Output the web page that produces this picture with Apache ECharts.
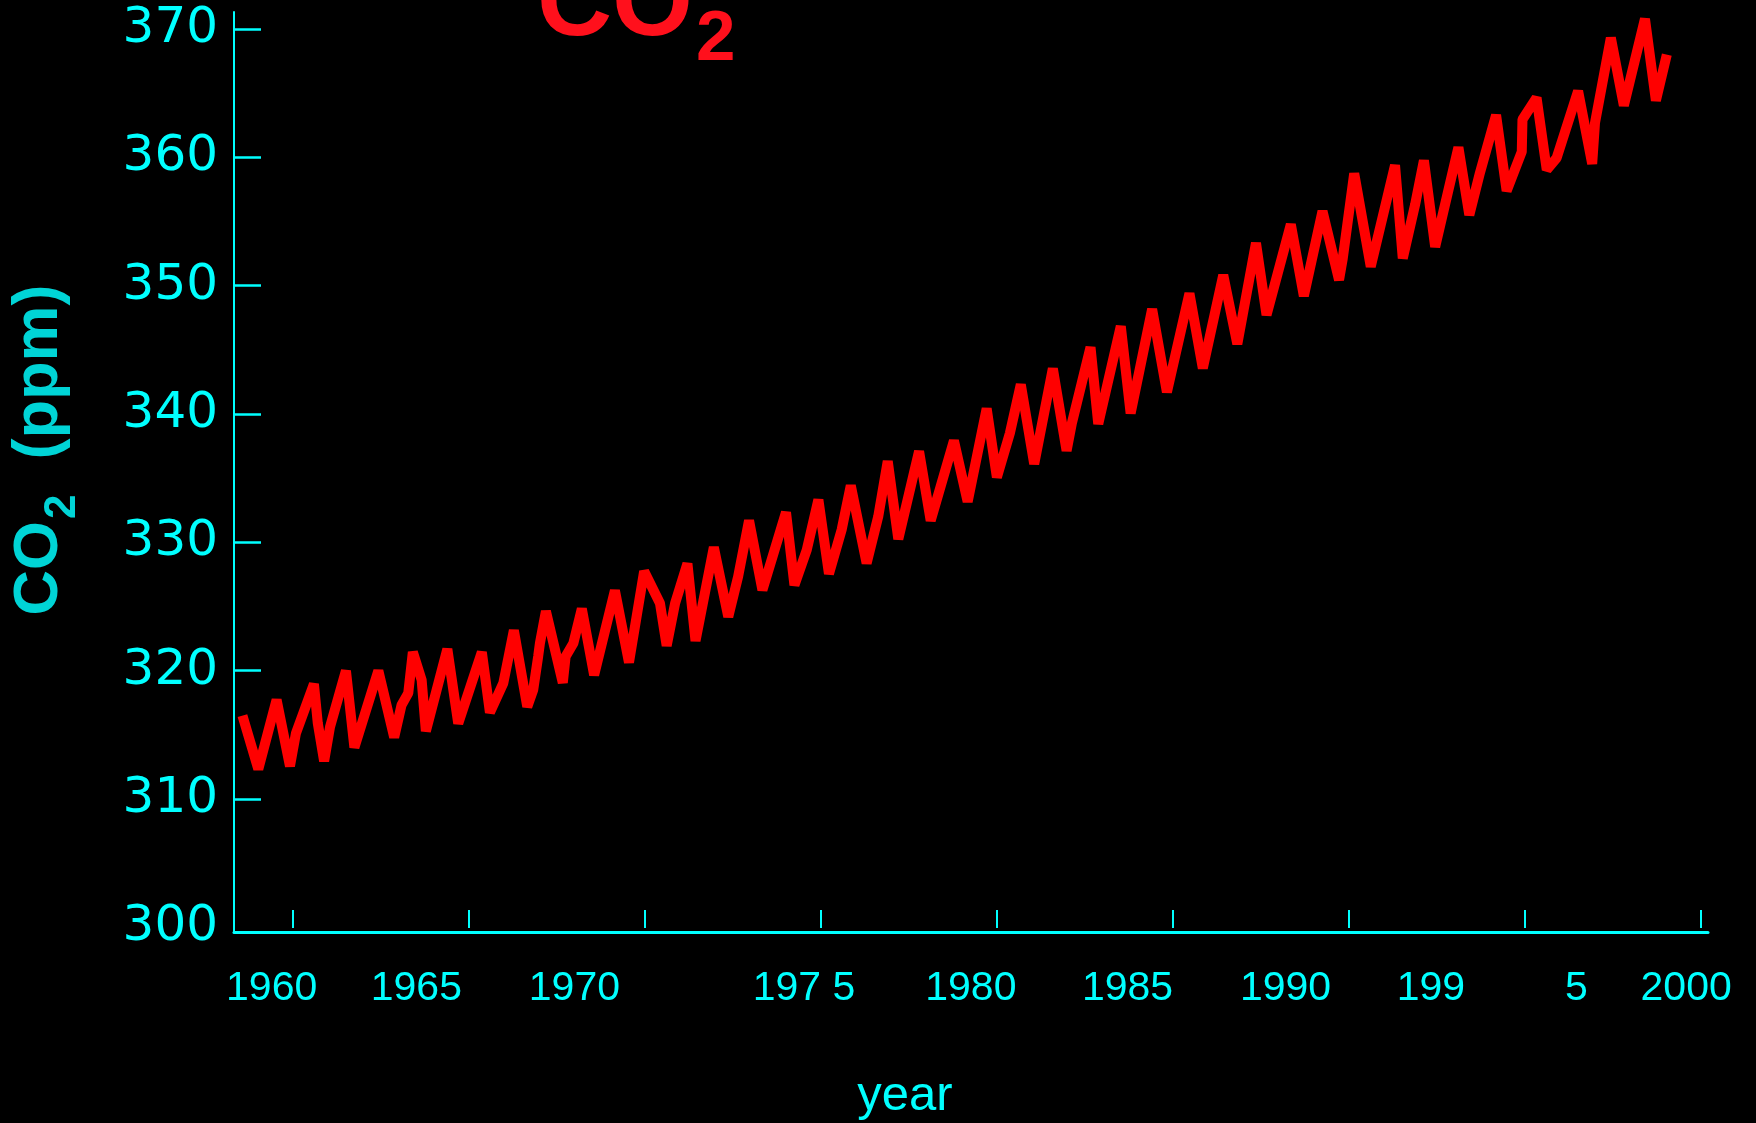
<!DOCTYPE html>
<html>
<head>
<meta charset="utf-8">
<script src="https://cdn.jsdelivr.net/npm/echarts@6/dist/echarts.min.js"></script>
<style>
  html, body { margin: 0; padding: 0; background: #000; }
  #chart { width: 1756px; height: 1123px; }
</style>
</head>
<body>
<div id="chart"></div>
<script>
// Mauna Loa style CO2 record: vertices of the seasonal curve (decimal year, ppm)
const years = [
  1958.57, 1959.02, 1959.54, 1959.92, 1960.09, 1960.60, 1960.71, 1960.89, 1961.06, 1961.51,
  1961.75, 1962.43, 1962.88, 1963.09, 1963.28, 1963.41, 1963.66, 1963.78, 1964.39, 1964.70,
  1965.37, 1965.60, 1965.98, 1966.28, 1966.66, 1966.83, 1966.97, 1967.02, 1967.19, 1967.67,
  1967.75, 1967.97, 1968.21, 1968.56, 1969.15, 1969.55, 1969.98, 1970.43, 1970.62, 1970.86,
  1971.21, 1971.44, 1971.96, 1972.37, 1972.65, 1972.96, 1973.34, 1974.01, 1974.25, 1974.60,
  1974.93, 1975.23, 1975.59, 1975.85, 1976.30, 1976.63, 1976.90, 1977.20, 1977.79, 1978.12,
  1978.78, 1979.17, 1979.71, 1980.00, 1980.37, 1980.68, 1981.06, 1981.59, 1981.98, 1982.13,
  1982.66, 1982.88, 1983.52, 1983.80, 1984.41, 1984.83, 1985.47, 1985.85, 1986.43, 1986.83,
  1987.36, 1987.66, 1988.35, 1988.72, 1989.25, 1989.72, 1989.82, 1990.15, 1990.62, 1991.31,
  1991.53, 1991.88, 1992.13, 1992.45, 1993.11, 1993.42, 1993.72, 1994.18, 1994.48, 1994.91,
  1994.93, 1995.33, 1995.62, 1995.90, 1996.51, 1996.91, 1996.99, 1997.44, 1997.81, 1998.41,
  1998.72, 1999.03
];
const co2 = [
  316.50, 312.33, 317.74, 312.56, 315.13, 318.96, 315.91, 312.95, 315.65, 320.00,
  314.02, 320.00, 314.80, 317.33, 318.25, 321.45, 319.28, 315.29, 321.69, 315.89,
  321.45, 316.74, 319.03, 323.15, 317.19, 318.51, 321.11, 322.14, 324.63, 319.06,
  321.11, 322.14, 324.84, 319.65, 326.26, 320.64, 327.75, 325.26, 321.94, 325.26,
  328.35, 322.32, 329.62, 324.20, 327.33, 331.70, 326.28, 332.34, 326.67, 329.42,
  333.33, 327.54, 330.97, 334.42, 328.37, 332.01, 336.32, 330.25, 337.10, 331.69,
  337.93, 333.17, 340.43, 335.06, 338.51, 342.30, 336.10, 343.54, 337.14, 339.28,
  345.20, 339.22, 346.84, 340.05, 348.17, 341.70, 349.39, 343.56, 350.82, 345.45,
  353.33, 347.71, 354.77, 349.19, 355.80, 350.44, 352.02, 358.74, 351.48, 359.39,
  352.13, 356.31, 359.76, 353.03, 360.78, 355.51, 358.77, 363.29, 357.38, 360.43,
  362.95, 364.64, 359.02, 359.94, 365.16, 359.49, 362.68, 369.31, 364.03, 370.79,
  364.42, 368.00
];

// axis ticks and labels
const yTicks = [300, 310, 320, 330, 340, 350, 360, 370];
const xTicks = [1960, 1965, 1970, 1975, 1980, 1985, 1990, 1995, 2000];
const xLabelText = ['1960', '1965', '1970', '197 5', '1980', '1985', '1990', '199', '5', '2000'];
const xLabelAt = [1959.40, 1963.51, 1968.00, 1974.52, 1979.26, 1983.71, 1988.20, 1992.33, 1996.46, 1999.58];

const CYAN = '#00ffff';
const NAME_CYAN = '#00d4d6';
const RED = '#ff0000';
const TITLE_RED = '#ff101c';
const X_MIN = 1958.33, X_MAX = 2000.2;
const Y_MIN = 299.64, Y_MAX = 371.32;

const chart = echarts.init(document.getElementById('chart'), null, { renderer: 'canvas' });

const nameFont = "'Liberation Sans Narrow', 'Liberation Sans', sans-serif";

chart.setOption({
  backgroundColor: '#000',
  animation: false,
  title: {
    text: '{m|CO}{s|2}',
    left: 537,
    top: -46,
    padding: 0,
    textStyle: {
      rich: {
        m: { fontSize: 104, fontWeight: 'bold', fontFamily: 'Liberation Sans', color: TITLE_RED, verticalAlign: 'top' },
        s: { fontSize: 71, fontWeight: 'bold', fontFamily: 'Liberation Sans', color: TITLE_RED, verticalAlign: 'top', padding: [51, 0, 0, 3] }
      }
    }
  },
  grid: { left: 234, right: 48, top: 12, bottom: 191, outerBoundsMode: 'none' },
  xAxis: [
    {
      type: 'value', min: X_MIN, max: X_MAX,
      axisLine: { onZero: false, lineStyle: { color: CYAN, width: 3 } },
      axisTick: { show: false },
      axisLabel: { show: false },
      splitLine: { show: false },
      name: 'year',
      nameLocation: 'middle',
      nameGap: 140,
      nameMoveOverlap: false,
      nameTextStyle: { color: CYAN, fontSize: 49, fontFamily: 'Liberation Sans', padding: [0, 132, 0, 0] }
    },
    {
      type: 'value', min: X_MIN, max: X_MAX, position: 'bottom', offset: -4,
      axisLine: { show: false, onZero: false },
      axisTick: { show: true, inside: true, length: 18, customValues: xTicks, lineStyle: { color: CYAN, width: 2 } },
      axisLabel: {
        customValues: xLabelAt,
        formatter: function (v) {
          for (let i = 0; i < xLabelAt.length; i++) {
            if (Math.abs(xLabelAt[i] - v) < 1e-6) return xLabelText[i];
          }
          return '';
        },
        color: CYAN, fontSize: 41, fontFamily: 'Liberation Sans',
        margin: 61, verticalAlign: 'middle'
      },
      splitLine: { show: false }
    }
  ],
  yAxis: {
    type: 'value', min: Y_MIN, max: Y_MAX,
    axisLine: { onZero: false, lineStyle: { color: CYAN, width: 2 } },
    axisTick: { show: true, inside: true, length: 27, customValues: yTicks.slice(1), lineStyle: { color: CYAN, width: 2.5 } },
    axisLabel: { customValues: yTicks, color: CYAN, fontSize: 50, fontFamily: 'DejaVu Sans', margin: 16 },
    splitLine: { show: false },
    name: '{m|CO}{s|2}{m|  (ppm)}',
    nameLocation: 'middle',
    nameGap: 149,
    nameMoveOverlap: false,
    nameTextStyle: {
      padding: [0, 0, 0, 44],
      rich: {
        m: { fontSize: 63, fontWeight: 'bold', fontFamily: nameFont, color: NAME_CYAN, verticalAlign: 'top' },
        s: { fontSize: 44, fontWeight: 'bold', fontFamily: nameFont, color: NAME_CYAN, verticalAlign: 'top', padding: [33, 0, 0, 2] }
      }
    }
  },
  series: [{
    type: 'line',
    xAxisIndex: 0,
    data: years.map((y, i) => [y, co2[i]]),
    showSymbol: false,
    symbol: 'none',
    silent: true,
    clip: false,
    lineStyle: { color: RED, width: 10, join: 'bevel', cap: 'butt' }
  }]
});
</script>
</body>
</html>
